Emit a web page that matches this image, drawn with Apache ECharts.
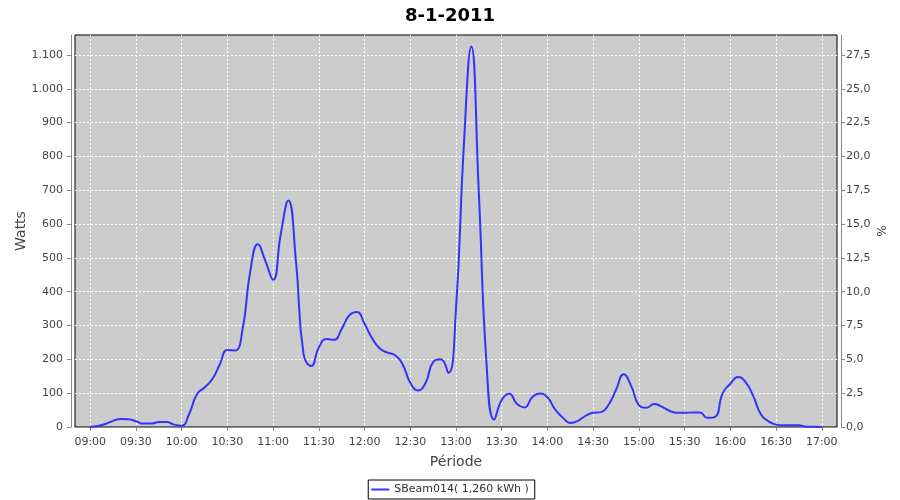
<!DOCTYPE html>
<html>
<head>
<meta charset="utf-8">
<script src="https://cdn.jsdelivr.net/npm/echarts@6/dist/echarts.min.js"></script>
<style>html,body{margin:0;padding:0;background:#fff;}#c{width:900px;height:500px;}</style>
</head>
<body>
<div id="c"></div>
<script>
const times = ['09:00','09:05','09:10','09:15','09:20','09:25','09:30','09:35','09:40','09:45','09:50','09:55',
'10:00','10:05','10:10','10:15','10:20','10:25','10:30','10:35','10:40','10:45','10:50','10:55',
'11:00','11:05','11:10','11:15','11:20','11:25','11:30','11:35','11:40','11:45','11:50','11:55',
'12:00','12:05','12:10','12:15','12:20','12:25','12:30','12:35','12:40','12:45','12:50','12:55',
'13:00','13:05','13:10','13:15','13:20','13:25','13:30','13:35','13:40','13:45','13:50','13:55',
'14:00','14:05','14:10','14:15','14:20','14:25','14:30','14:35','14:40','14:45','14:50','14:55',
'15:00','15:05','15:10','15:15','15:20','15:25','15:30','15:35','15:40','15:45','15:50','15:55',
'16:00','16:05','16:10','16:15','16:20','16:25','16:30','16:35','16:40','16:45','16:50','16:55',
'17:00'];
const watts = [0,3,9,18,24,23,17,10,10,15,15,7,
4,40,97,117,141,185,228,226,290,460,540,490,
435,570,670,490,215,180,235,260,258,290,330,340,
305,262,232,220,212,185,131,108,130,192,200,160,
350,820,1125,690,190,22,80,98,68,58,88,99,
88,52,28,12,18,33,42,44,65,110,156,121,
65,57,68,60,48,42,42,43,43,27,30,100,
128,148,133,92,38,17,7,5,5,5,1,1,
0];
const padBefore = ['08:50','08:55'];
const padAfter = ['17:05','17:10'];
const xTickLabels = ['09:00','09:30','10:00','10:30','11:00','11:30','12:00','12:30','13:00','13:30','14:00','14:30','15:00','15:30','16:00','16:30','17:00'];
const leftTicks = [0,100,200,300,400,500,600,700,800,900,1000,1100];
const rightTicks = [0,2.5,5,7.5,10,12.5,15,17.5,20,22.5,25,27.5];
const seriesName = 'SBeam014( 1,260 kWh )';
const chartTitle = '8-1-2011';

const categories = padBefore.concat(times, padAfter);
const seriesData = padBefore.map(() => null).concat(watts, padAfter.map(() => null));
const isTick = (i, v) => xTickLabels.indexOf(categories[i]) >= 0;

const FONT = 'DejaVu Sans';
const leftMax = 1159;
const chart = echarts.init(document.getElementById('c'), null, {renderer: 'canvas'});
chart.setOption({
  animation: false,
  backgroundColor: '#ffffff',
  textStyle: {fontFamily: FONT},
  title: {
    text: chartTitle, left: 'center', top: 2,
    textStyle: {fontFamily: FONT, fontSize: 18, fontWeight: 'bold', color: '#000'}
  },
  legend: {
    bottom: 1, left: 'center',
    data: [seriesName],
    icon: 'rect', itemWidth: 18, itemHeight: 2, itemGap: 4,
    borderColor: '#000', borderWidth: 1, borderRadius: 0,
    padding: [4, 6, 4, 3],
    textStyle: {fontFamily: FONT, fontSize: 11, color: '#333'}
  },
  grid: {
    left: 75, right: 63, top: 35, bottom: 73,
    show: true, backgroundColor: '#cccccc', borderColor: '#000', borderWidth: 1
  },
  xAxis: {
    type: 'category', data: categories, boundaryGap: false,
    offset: 4,
    name: 'Période', nameLocation: 'middle', nameGap: 24, nameMoveOverlap: false,
    nameTextStyle: {fontFamily: FONT, fontSize: 14, color: '#444'},
    axisLine: {show: true, lineStyle: {color: '#888', width: 1}},
    axisTick: {show: true, interval: isTick, length: 4, lineStyle: {color: '#888'}},
    axisLabel: {interval: isTick, fontFamily: FONT, fontSize: 11, color: '#444', margin: 6},
    splitLine: {show: true, interval: isTick, lineStyle: {color: '#ffffff', type: [2, 2], width: 1}}
  },
  yAxis: [{
    type: 'value', min: 0, max: leftMax, interval: 100,
    position: 'left', offset: 4,
    name: 'Watts', nameLocation: 'middle', nameGap: 43, nameRotate: 90, nameMoveOverlap: false,
    nameTextStyle: {fontFamily: FONT, fontSize: 14, color: '#444'},
    axisLine: {show: true, lineStyle: {color: '#888', width: 1}},
    axisTick: {show: true, length: 4, lineStyle: {color: '#888'}, customValues: leftTicks},
    axisLabel: {
      fontFamily: FONT, fontSize: 11, color: '#444', margin: 8, customValues: leftTicks,
      formatter: v => v >= 1000 ? Math.floor(v / 1000) + '.' + String(v % 1000).padStart(3, '0') : String(v)
    },
    splitLine: {show: true, lineStyle: {color: '#ffffff', type: [2, 2], width: 1}}
  }, {
    type: 'value', min: 0, max: leftMax / 40, interval: 2.5,
    position: 'right', offset: 4,
    name: '%', nameLocation: 'middle', nameGap: 33, nameRotate: -90, nameMoveOverlap: false,
    nameTextStyle: {fontFamily: FONT, fontSize: 12, color: '#444'},
    axisLine: {show: true, lineStyle: {color: '#888', width: 1}},
    axisTick: {show: true, length: 4, lineStyle: {color: '#888'}, customValues: rightTicks},
    axisLabel: {
      fontFamily: FONT, fontSize: 11, color: '#444', margin: 5, customValues: rightTicks,
      formatter: v => v.toFixed(1).replace('.', ',')
    },
    splitLine: {show: false}
  }],
  series: [{
    name: seriesName, type: 'line', yAxisIndex: 0,
    data: seriesData, smooth: 0.5, showSymbol: false, connectNulls: false,
    lineStyle: {color: '#3333ff', width: 2},
    itemStyle: {color: '#3333ff'}
  }]
});
</script>
</body>
</html>
